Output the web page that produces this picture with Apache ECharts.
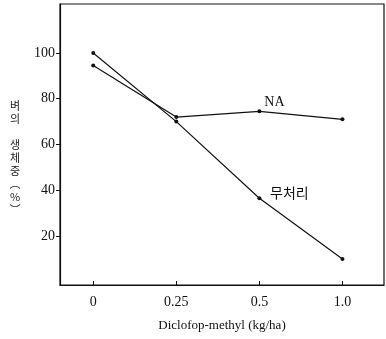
<!DOCTYPE html>
<html>
<head>
<meta charset="utf-8">
<script src="https://cdn.jsdelivr.net/npm/echarts@6/dist/echarts.min.js"></script>
<style>html,body{margin:0;padding:0;background:#fff}#main{width:386px;height:339px}</style>
</head>
<body>
<div id="main"></div>
<script>
// x 범주 (kg/ha)
var doseLabels = ['0', '0.25', '0.5', '1.0'];
// 벼의 생체중 (%)
var noTreat = [100, 70, 36.5, 10];   // 무처리
var naTreat = [94.5, 72, 74.5, 71];  // NA
var yTicks = [20, 40, 60, 80, 100];

var serif = '"Liberation Serif", "DejaVu Serif", serif';
var kor = '"Noto Sans CJK KR", sans-serif';

function toPairs(arr, name, off) {
    return arr.map(function (v, i) {
        var item = { value: [i, v] };
        if (i === 2) {
            item.label = {
                show: true,
                formatter: name,
                position: 'top',
                offset: off,
                color: '#111',
                fontSize: 14,
                fontFamily: name === 'NA' ? serif : kor
            };
        }
        return item;
    });
}

var chart = echarts.init(document.getElementById('main'));
chart.setOption({
    animation: false,
    grid: {
        left: 60, right: 2, top: 4, bottom: 54,
        show: true, borderColor: '#111', borderWidth: 1.2
    },
    xAxis: {
        type: 'value',
        min: -0.4,
        max: 3.5,
        splitLine: { show: false },
        axisLine: { onZero: false, lineStyle: { color: '#111', width: 1.2 } },
        axisTick: { inside: true, length: 4, customValues: [0, 1, 2, 3], lineStyle: { color: '#111' } },
        axisLabel: {
            customValues: [0, 1, 2, 3],
            formatter: function (v) { return doseLabels[Math.round(v)]; },
            color: '#111', fontSize: 14, fontFamily: serif, margin: 10
        },
        name: 'Diclofop-methyl (kg/ha)',
        nameLocation: 'middle',
        nameGap: 34,
        nameTextStyle: { color: '#111', fontSize: 13, fontFamily: serif }
    },
    yAxis: {
        type: 'value',
        min: -1.4,
        max: 121.4,
        splitLine: { show: false },
        axisLine: { show: true, onZero: false, lineStyle: { color: '#111', width: 1.2 } },
        axisTick: { show: true, length: 4, customValues: yTicks, lineStyle: { color: '#111' } },
        axisLabel: {
            customValues: yTicks,
            color: '#111', fontSize: 14, fontFamily: serif, margin: 5
        },
        name: ' \n \n벼\n의\n\n생\n체\n중\n︵\n%\n︶',
        nameLocation: 'middle',
        nameRotate: 0,
        nameGap: 45,
        nameTextStyle: { color: '#222', fontSize: 11, lineHeight: 13, fontFamily: kor, align: 'center' }
    },
    series: [
        {
            name: '무처리',
            type: 'line',
            data: toPairs(noTreat, '무처리', [30, 8]),
            symbol: 'circle',
            symbolSize: 4,
            itemStyle: { color: '#111' },
            lineStyle: { color: '#111', width: 1.2 }
        },
        {
            name: 'NA',
            type: 'line',
            data: toPairs(naTreat, 'NA', [15, 5]),
            symbol: 'circle',
            symbolSize: 4,
            itemStyle: { color: '#111' },
            lineStyle: { color: '#111', width: 1.2 }
        }
    ]
});
</script>
</body>
</html>
